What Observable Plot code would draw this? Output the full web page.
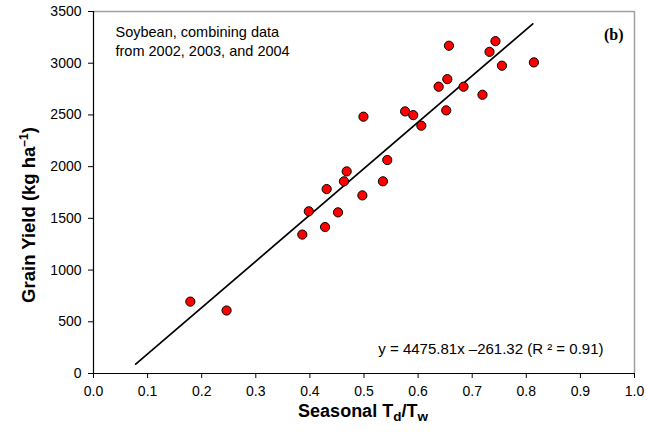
<!DOCTYPE html>
<html><head><meta charset="utf-8">
<script src="https://cdn.jsdelivr.net/npm/d3@7"></script>
<script src="https://cdn.jsdelivr.net/npm/@observablehq/plot@0.6"></script>
<style>body{margin:0;background:#fff}</style>
</head><body><div id="chart"></div>
<script>
// Seasonal Td/Tw ratio and soybean grain yield (kg/ha)
const ratio      = [0.179, 0.246, 0.386, 0.428, 0.398, 0.452, 0.431, 0.468, 0.463, 0.497, 0.535, 0.543, 0.499, 0.576, 0.591, 0.652, 0.606, 0.638, 0.654, 0.684, 0.719, 0.657, 0.743, 0.732, 0.755, 0.814];
const grainYield = [695,   609,   1343,  1416,  1568,  1558,  1783,  1954,  1858,  1722,  1858,  2064,  2483,  2534,  2498,  2544,  2396,  2773,  2846,  2773,  2695,  3169,  3213,  3110,  2976,  3008];
// Fitted line end points (y = 4475.81x - 261.32)
const fitX = [0.078, 0.812];
const fitY = [90, 3381];
const xTicks = [0, 0.1, 0.2, 0.3, 0.4, 0.5, 0.6, 0.7, 0.8, 0.9, 1.0];
const yTicks = [0, 500, 1000, 1500, 2000, 2500, 3000, 3500];
const noteLines = ["Soybean, combining data", "from 2002, 2003, and 2004"];
const panelLabel = "(b)";
const equation = "y = 4475.81x \u2013261.32 (R \u00B2 = 0.91)";

const points = ratio.map((x, i) => ({x, y: grainYield[i]}));
const fit = fitX.map((x, i) => ({x, y: fitY[i]}));

const font = "'Liberation Sans', Arial, sans-serif";
const W = 647, H = 434, mL = 93, mR = 13, mT = 11, mB = 61;

const chart = Plot.plot({
  width: W, height: H,
  marginLeft: mL, marginRight: mR, marginTop: mT, marginBottom: mB,
  style: {fontFamily: font, fontSize: "14px", background: "white", color: "black"},
  x: {domain: [0, 1]},
  y: {domain: [0, 3500]},
  marks: [
    Plot.ruleY([3500], {stroke: "#a0a0a0", strokeWidth: 1.5}),
    Plot.ruleX([1], {stroke: "#a0a0a0", strokeWidth: 1.5}),
    Plot.axisX({ticks: xTicks, tickFormat: d3.format(".1f"), tickSize: 5, tickPadding: 8, label: null, fontSize: 14}),
    Plot.axisY({ticks: yTicks, tickFormat: d => String(d), tickSize: 5, tickPadding: 7, label: null, fontSize: 14}),
    Plot.ruleY([0], {stroke: "black", strokeWidth: 1.2}),
    Plot.ruleX([0], {stroke: "black", strokeWidth: 1.2}),
    Plot.line(fit, {x: "x", y: "y", stroke: "black", strokeWidth: 1.7}),
    Plot.dot(points, {x: "x", y: "y", r: 4.6, fill: "#ff0000", stroke: "black", strokeWidth: 1}),
    Plot.text([noteLines.join("\n")], {frameAnchor: "top-left", textAnchor: "start", lineAnchor: "bottom",
      dx: 22, dy: 44, lineHeight: 1.29, fontSize: 14.5, fill: "black"}),
    Plot.text([panelLabel], {frameAnchor: "top-right", textAnchor: "end", lineAnchor: "bottom",
      dx: -11, dy: 28, fontSize: 16, fontWeight: "bold", fontFamily: "'Liberation Serif', 'Times New Roman', serif", fill: "black"}),
    Plot.text([equation], {frameAnchor: "bottom-right", textAnchor: "end", lineAnchor: "bottom",
      dx: -31, dy: -20, fontSize: 15, fill: "black"})
  ]
});

const svg = d3.select(chart);
// x axis title with subscripts
const xt = svg.append("text")
  .attr("x", 363).attr("y", 417)
  .attr("text-anchor", "middle")
  .attr("font-family", font).attr("font-weight", "bold").attr("font-size", 18).attr("fill", "black");
xt.append("tspan").text("Seasonal T");
xt.append("tspan").attr("font-size", 13.5).attr("dy", 4).text("d");
xt.append("tspan").attr("dy", -4).text("/T");
xt.append("tspan").attr("font-size", 13.5).attr("dy", 4).text("w");
// y axis title with superscript
const yt = svg.append("text")
  .attr("transform", "translate(35,215) rotate(-90)")
  .attr("text-anchor", "middle")
  .attr("font-family", font).attr("font-weight", "bold").attr("font-size", 18.5).attr("fill", "black");
yt.append("tspan").text("Grain Yield (kg ha");
yt.append("tspan").attr("font-size", 12).attr("dy", -7).text("\u20131");
yt.append("tspan").attr("dy", 7).text(")");

document.getElementById("chart").appendChild(chart);
</script>
</body></html>
